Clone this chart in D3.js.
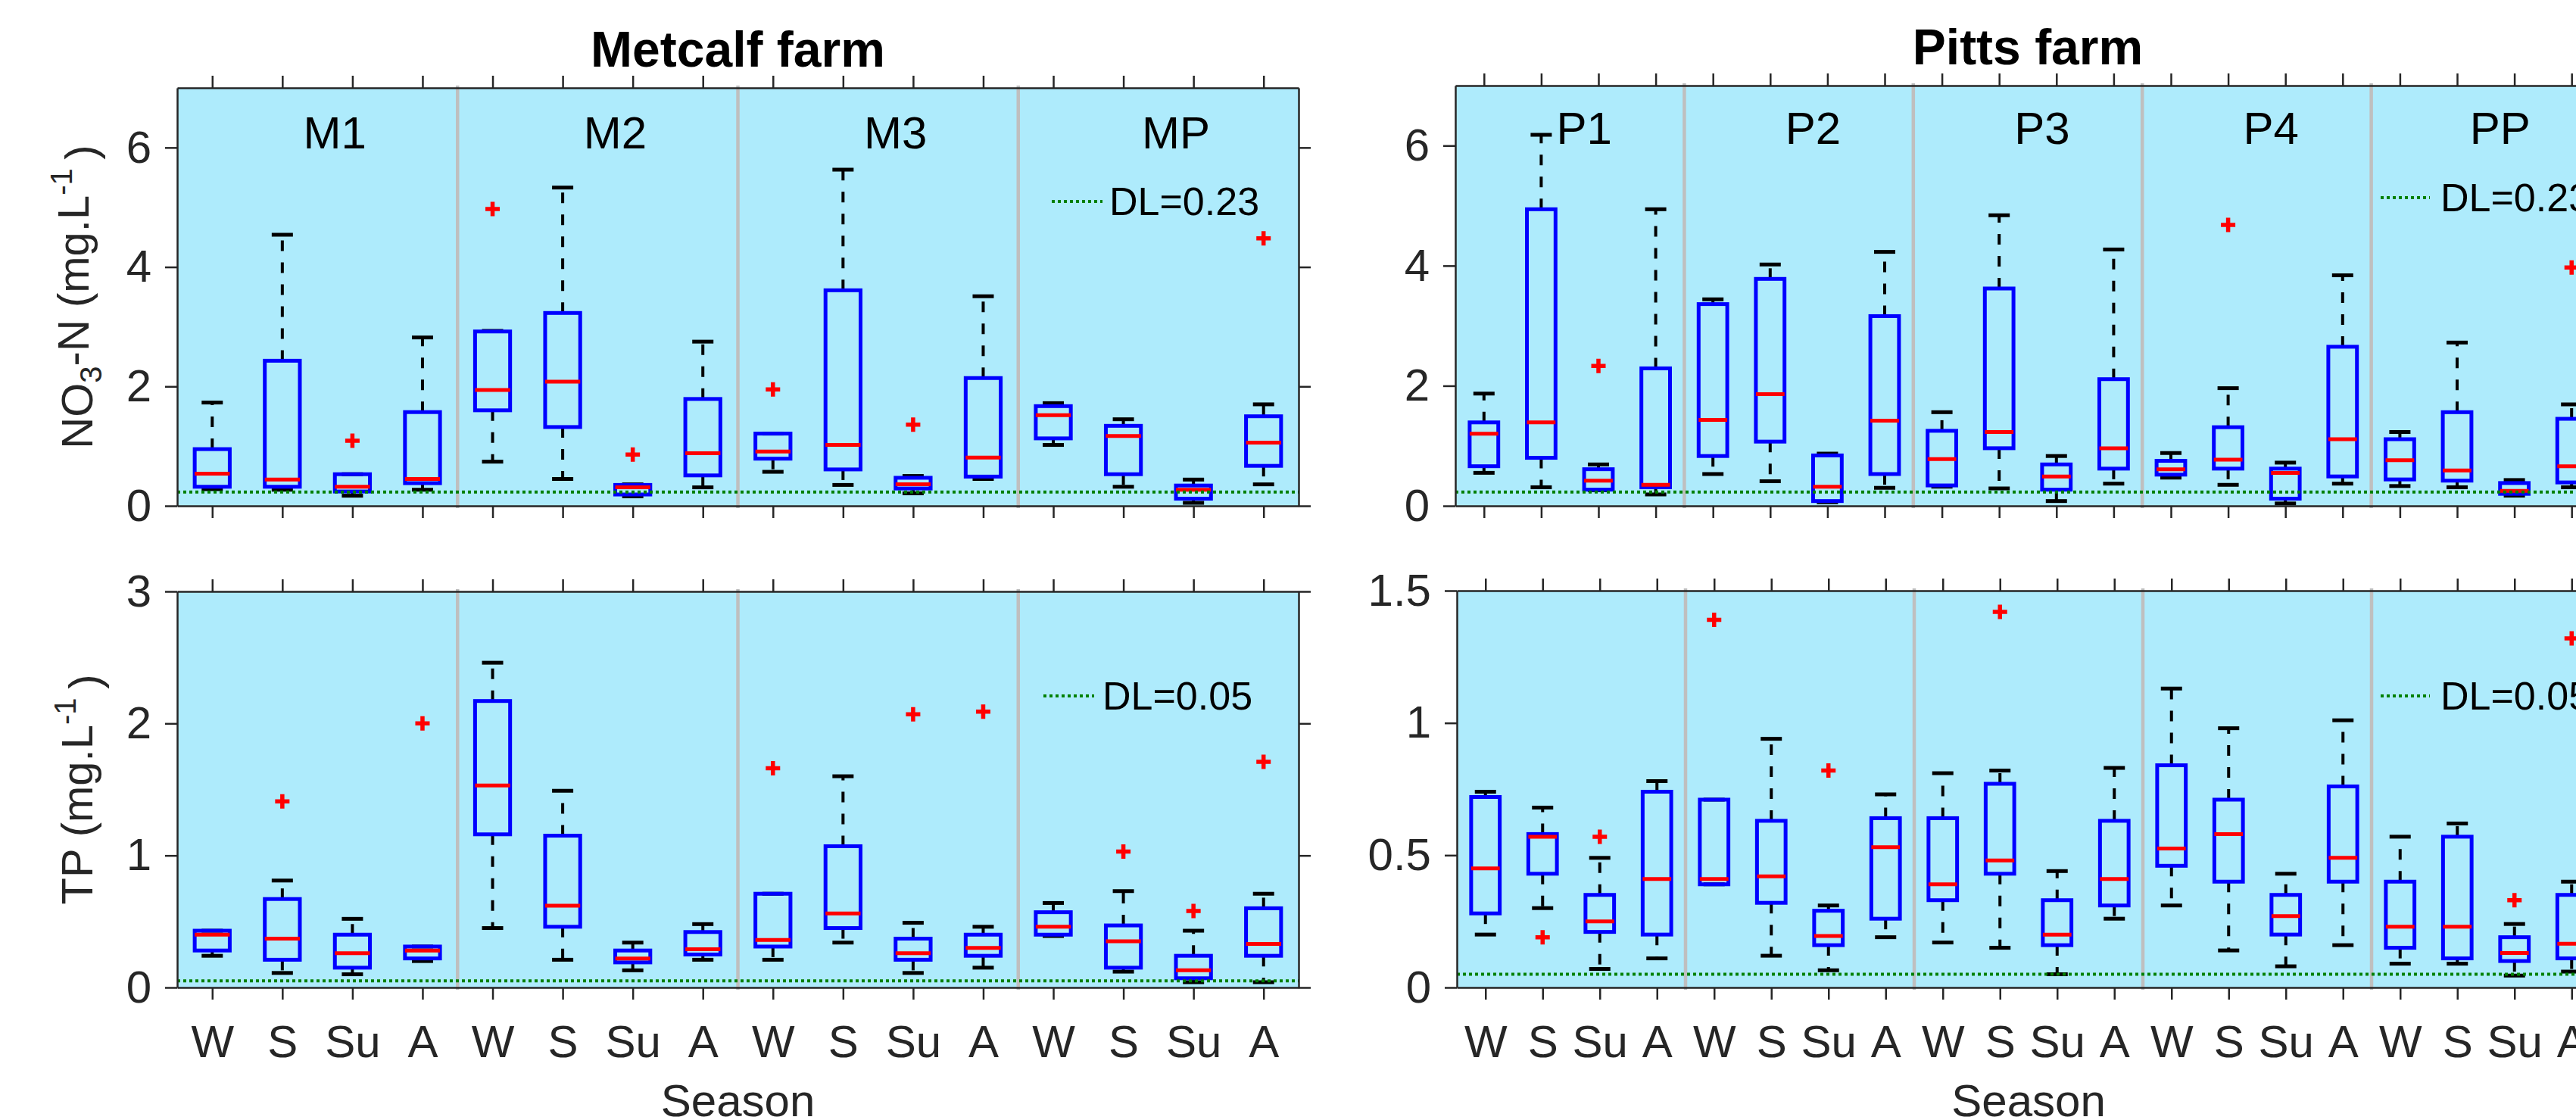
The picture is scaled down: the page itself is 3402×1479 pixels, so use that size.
<!DOCTYPE html>
<html>
<head>
<meta charset="utf-8">
<script src="https://cdn.jsdelivr.net/npm/d3@7"></script>
<style>
  body { margin: 0; background: #fff; }
  svg { display: block; }
</style>
</head>
<body>
<script>
// box stats per season: [lower whisker, q1, median, q3, upper whisker]
var seasons = ["W", "S", "Su", "A"];
var metcalfSites = ["M1", "M2", "M3", "MP"];
var pittsSites = ["P1", "P2", "P3", "P4", "PP"];

var metcalfNO3 = [
  [0.28, 0.32, 0.54, 0.95, 1.73], [0.27, 0.32, 0.44, 2.43, 4.54], [0.17, 0.24, 0.32, 0.53, 0.53], [0.27, 0.38, 0.45, 1.57, 2.82],
  [0.74, 1.60, 1.94, 2.92, 2.93], [0.45, 1.32, 2.08, 3.23, 5.33], [0.16, 0.19, 0.31, 0.35, 0.36], [0.31, 0.51, 0.88, 1.79, 2.75],
  [0.57, 0.79, 0.91, 1.21, 1.21], [0.35, 0.61, 1.02, 3.61, 5.63], [0.21, 0.29, 0.36, 0.47, 0.50], [0.45, 0.49, 0.81, 2.14, 3.51],
  [1.02, 1.13, 1.52, 1.67, 1.72], [0.32, 0.53, 1.17, 1.34, 1.45], [0.05, 0.12, 0.27, 0.34, 0.44], [0.36, 0.67, 1.06, 1.50, 1.70]
];
var metcalfNO3Out = [[], [], [1.09], [], [4.97], [], [0.86], [], [1.95], [], [1.36], [], [], [], [], [4.48]];

var metcalfTP = [
  [0.24, 0.28, 0.40, 0.43, 0.43], [0.11, 0.21, 0.37, 0.67, 0.81], [0.10, 0.15, 0.26, 0.40, 0.52], [0.20, 0.22, 0.28, 0.31, 0.31],
  [0.45, 1.16, 1.53, 2.17, 2.46], [0.21, 0.46, 0.62, 1.15, 1.49], [0.13, 0.19, 0.22, 0.28, 0.34], [0.21, 0.25, 0.29, 0.42, 0.48],
  [0.21, 0.31, 0.36, 0.71, 0.71], [0.34, 0.45, 0.56, 1.07, 1.60], [0.11, 0.21, 0.26, 0.37, 0.49], [0.15, 0.24, 0.30, 0.40, 0.46],
  [0.39, 0.40, 0.46, 0.57, 0.64], [0.12, 0.15, 0.35, 0.47, 0.73], [0.04, 0.07, 0.13, 0.24, 0.43], [0.04, 0.24, 0.33, 0.60, 0.71]
];
var metcalfTPOut = [[], [1.41], [], [2.00], [], [], [], [], [1.66], [], [2.07], [2.09], [], [1.03], [0.58], [1.71]];

var pittsNO3 = [
  [0.55, 0.66, 1.20, 1.39, 1.87], [0.31, 0.80, 1.39, 4.94, 6.18], [0.26, 0.27, 0.42, 0.61, 0.69], [0.19, 0.31, 0.35, 2.29, 4.94],
  [0.53, 0.83, 1.43, 3.36, 3.44], [0.41, 1.07, 1.86, 3.78, 4.02], [0.06, 0.08, 0.32, 0.84, 0.87], [0.30, 0.53, 1.42, 3.16, 4.23],
  [0.32, 0.34, 0.78, 1.25, 1.56], [0.29, 0.96, 1.23, 3.62, 4.84], [0.08, 0.27, 0.49, 0.69, 0.83], [0.37, 0.62, 0.96, 2.11, 4.27],
  [0.47, 0.52, 0.61, 0.75, 0.88], [0.35, 0.62, 0.77, 1.31, 1.96], [0.04, 0.12, 0.55, 0.62, 0.72], [0.37, 0.49, 1.11, 2.65, 3.84],
  [0.33, 0.44, 0.76, 1.11, 1.23], [0.31, 0.42, 0.59, 1.56, 2.72], [0.17, 0.20, 0.25, 0.38, 0.43], [0.31, 0.39, 0.66, 1.45, 1.69]
];
var pittsNO3Out = [[], [], [2.33], [], [], [], [], [], [], [], [], [], [], [4.68], [], [], [], [], [], [3.97]];

var pittsTP = [
  [0.20, 0.28, 0.45, 0.72, 0.74], [0.30, 0.43, 0.57, 0.58, 0.68], [0.07, 0.21, 0.25, 0.35, 0.49], [0.11, 0.20, 0.41, 0.74, 0.78],
  [0.39, 0.39, 0.41, 0.71, 0.71], [0.12, 0.32, 0.42, 0.63, 0.94], [0.065, 0.16, 0.195, 0.29, 0.31], [0.19, 0.26, 0.53, 0.64, 0.73],
  [0.17, 0.33, 0.39, 0.64, 0.81], [0.15, 0.43, 0.48, 0.77, 0.82], [0.05, 0.16, 0.20, 0.33, 0.44], [0.26, 0.31, 0.41, 0.63, 0.83],
  [0.31, 0.46, 0.525, 0.84, 1.13], [0.14, 0.40, 0.58, 0.71, 0.98], [0.08, 0.20, 0.27, 0.35, 0.43], [0.16, 0.40, 0.49, 0.76, 1.01],
  [0.09, 0.15, 0.23, 0.40, 0.57], [0.09, 0.11, 0.23, 0.57, 0.62], [0.045, 0.10, 0.13, 0.19, 0.24], [0.06, 0.11, 0.165, 0.35, 0.40]
];
var pittsTPOut = [[], [0.19], [0.57], [], [1.39], [], [0.82], [], [], [1.42], [], [], [], [], [], [], [], [], [0.33], [1.32]];

var no3Ticks = [0, 2, 4, 6];
var tpMetcalfTicks = [0, 1, 2, 3];
var tpPittsTicks = [0, 0.5, 1, 1.5];
var dlNO3 = 0.23, dlTP = 0.05;

var width = 3402, height = 1479;
var BG = "#aeebfc", AX = "#262626";

var svg = d3.select("body").append("svg")
    .attr("width", width)
    .attr("height", height)
    .style("font-family", "'Liberation Sans', Arial, Helvetica, sans-serif");

var panels = [
  {sites: metcalfSites, stats: metcalfNO3, out: metcalfNO3Out, ymax: 7, ticks: no3Ticks, dl: dlNO3,
   left: 234, right: 1715, top: 116, bottom: 668, siteY: 196, ylabel: "no3",
   leg: {x1: 1389, x2: 1456, tx: 1465, y: 266}},
  {sites: metcalfSites, stats: metcalfTP, out: metcalfTPOut, ymax: 3, ticks: tpMetcalfTicks, dl: dlTP,
   left: 234, right: 1715, top: 781, bottom: 1304, siteY: null, ylabel: "tp", xlabels: true,
   leg: {x1: 1378, x2: 1445, tx: 1456, y: 919}},
  {sites: pittsSites, stats: pittsNO3, out: pittsNO3Out, ymax: 7, ticks: no3Ticks, dl: dlNO3,
   left: 1922, right: 3434, top: 113, bottom: 668, siteY: 190,
   leg: {x1: 3144, x2: 3209, tx: 3223, y: 261}},
  {sites: pittsSites, stats: pittsTP, out: pittsTPOut, ymax: 1.5, ticks: tpPittsTicks, dl: dlTP,
   left: 1924, right: 3434, top: 780, bottom: 1304, siteY: null, xlabels: true,
   leg: {x1: 3144, x2: 3209, tx: 3223, y: 919}}
];

function styleAxis(a) {
  a.attr("font-family", null).attr("font-size", null);
  a.selectAll("path, line").attr("stroke", AX).attr("stroke-width", 2.5);
  a.selectAll("text").attr("fill", AX).attr("font-size", 60);
}

panels.forEach(function(p) {
  var n = p.stats.length;
  var x = d3.scaleLinear().domain([0.5, n + 0.5]).range([p.left, p.right]);
  var y = d3.scaleLinear().domain([0, p.ymax]).range([p.bottom, p.top]);
  var g = svg.append("g");

  g.append("rect")
    .attr("x", p.left).attr("y", p.top)
    .attr("width", p.right - p.left).attr("height", p.bottom - p.top)
    .attr("fill", BG);

  // grey lines between sites
  g.selectAll(".sep")
    .data(d3.range(1, p.sites.length).map(function(i) { return i * 4 + 0.5; }))
    .enter().append("line")
    .attr("x1", function(d) { return x(d); }).attr("x2", function(d) { return x(d); })
    .attr("y1", p.top - 3).attr("y2", p.bottom + 3)
    .attr("stroke", "#bfbfbf").attr("stroke-width", 4.5);

  if (p.siteY) {
    g.selectAll(".site").data(p.sites).enter().append("text")
      .attr("x", function(d, i) { return x(i * 4 + 2.75); })
      .attr("y", p.siteY)
      .attr("text-anchor", "middle")
      .attr("font-size", 60)
      .attr("fill", "#000")
      .text(function(d) { return d; });
  }

  var bw = (x(1) - x(0)) * 0.5;
  var box = g.selectAll(".box").data(p.stats).enter().append("g")
    .attr("transform", function(d, i) { return "translate(" + x(i + 1) + ",0)"; });

  box.append("line")
    .attr("y1", function(d) { return y(d[3]); }).attr("y2", function(d) { return y(d[4]); })
    .attr("stroke", "#000").attr("stroke-width", 4).attr("stroke-dasharray", "14,15");
  box.append("line")
    .attr("y1", function(d) { return y(d[1]); }).attr("y2", function(d) { return y(d[0]); })
    .attr("stroke", "#000").attr("stroke-width", 4).attr("stroke-dasharray", "14,15");
  box.append("line")
    .attr("x1", -14).attr("x2", 14)
    .attr("y1", function(d) { return y(d[4]); }).attr("y2", function(d) { return y(d[4]); })
    .attr("stroke", "#000").attr("stroke-width", 5);
  box.append("line")
    .attr("x1", -14).attr("x2", 14)
    .attr("y1", function(d) { return y(d[0]); }).attr("y2", function(d) { return y(d[0]); })
    .attr("stroke", "#000").attr("stroke-width", 5);
  box.append("rect")
    .attr("x", -bw / 2).attr("width", bw)
    .attr("y", function(d) { return y(d[3]); })
    .attr("height", function(d) { return y(d[1]) - y(d[3]); })
    .attr("fill", "none").attr("stroke", "#0000ff").attr("stroke-width", 5);
  box.append("line")
    .attr("x1", -bw / 2).attr("x2", bw / 2)
    .attr("y1", function(d) { return y(d[2]); }).attr("y2", function(d) { return y(d[2]); })
    .attr("stroke", "#ff0000").attr("stroke-width", 5);

  // outliers
  box.each(function(d, i) {
    d3.select(this).selectAll(".out").data(p.out[i]).enter().append("path")
      .attr("d", function(v) { return "M-9.5," + y(v) + "H9.5M0," + (y(v) - 9.5) + "V" + (y(v) + 9.5); })
      .attr("stroke", "#ff0000").attr("stroke-width", 5.5).attr("fill", "none");
  });

  // detection limit
  g.append("line")
    .attr("x1", p.left).attr("x2", p.right)
    .attr("y1", y(p.dl)).attr("y2", y(p.dl))
    .attr("stroke", "#008000").attr("stroke-width", 4).attr("stroke-dasharray", "4,4");

  var xv = d3.range(1, n + 1);
  var bottomAx = g.append("g").attr("transform", "translate(0," + p.bottom + ")")
    .call(d3.axisBottom(x).tickValues(xv).tickSize(16).tickSizeOuter(0).tickPadding(33)
      .tickFormat(function(d) { return p.xlabels ? seasons[(d - 1) % 4] : ""; }));
  var topAx = g.append("g").attr("transform", "translate(0," + p.top + ")")
    .call(d3.axisTop(x).tickValues(xv).tickSize(16).tickSizeOuter(0).tickFormat(""));
  var leftAx = g.append("g").attr("transform", "translate(" + p.left + ",0)")
    .call(d3.axisLeft(y).tickValues(p.ticks).tickSize(16).tickSizeOuter(0).tickPadding(18)
      .tickFormat(function(d) { return String(d); }));
  var rightAx = g.append("g").attr("transform", "translate(" + p.right + ",0)")
    .call(d3.axisRight(y).tickValues(p.ticks).tickSize(16).tickSizeOuter(0).tickFormat(""));
  [bottomAx, topAx, leftAx, rightAx].forEach(styleAxis);

  // legend
  g.append("line")
    .attr("x1", p.leg.x1).attr("x2", p.leg.x2)
    .attr("y1", p.leg.y).attr("y2", p.leg.y)
    .attr("stroke", "#008000").attr("stroke-width", 4).attr("stroke-dasharray", "4,4");
  g.append("text")
    .attr("x", p.leg.tx).attr("y", p.leg.y).attr("dy", "0.35em")
    .attr("font-size", 52).attr("fill", "#000")
    .text("DL=" + d3.format(".2f")(p.dl));

  if (p.xlabels) {
    g.append("text")
      .attr("x", (p.left + p.right) / 2).attr("y", 1474)
      .attr("text-anchor", "middle").attr("font-size", 60).attr("fill", AX)
      .text("Season");
  }

  if (p.ylabel) {
    var cy = (p.top + p.bottom) / 2;
    var t = g.append("text")
      .attr("transform", "translate(122," + cy + ") rotate(-90)")
      .attr("text-anchor", "middle").attr("font-size", 58).attr("fill", AX);
    if (p.ylabel === "no3") {
      t.append("tspan").text("NO");
      t.append("tspan").attr("font-size", 40).attr("dy", "0.3em").text("3");
      t.append("tspan").attr("dy", "-0.3em").text("-N (mg.L");
    } else {
      t.append("tspan").text("TP (mg.L");
    }
    t.append("tspan").attr("font-size", 40).attr("dy", "-0.55em").text("-1");
    t.append("tspan").attr("dy", "0.55em").text("\u2009)");
  }
});

// farm titles
svg.append("text")
  .attr("x", (panels[0].left + panels[0].right) / 2).attr("y", 88)
  .attr("text-anchor", "middle").attr("font-size", 66).attr("font-weight", "bold")
  .text("Metcalf farm");
svg.append("text")
  .attr("x", (panels[2].left + panels[2].right) / 2).attr("y", 85)
  .attr("text-anchor", "middle").attr("font-size", 66).attr("font-weight", "bold")
  .text("Pitts farm");
</script>
</body>
</html>
